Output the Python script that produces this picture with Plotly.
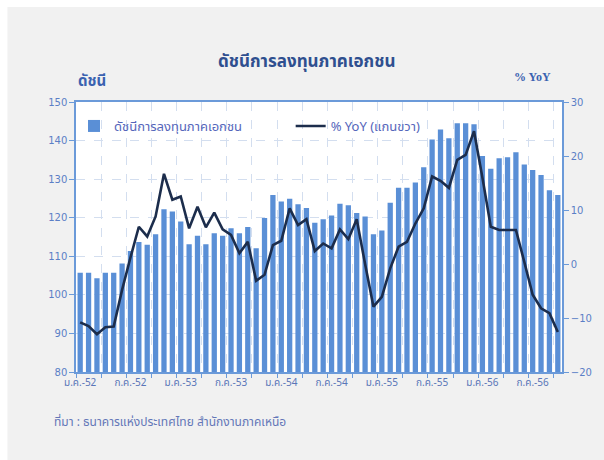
import plotly.graph_objects as go

months = ["ม.ค.", "ก.พ.", "มี.ค.", "เม.ย.", "พ.ค.", "มิ.ย.", "ก.ค.", "ส.ค.", "ก.ย.", "ต.ค.", "พ.ย.", "ธ.ค."]
years = ["52", "53", "54", "55", "56"]
categories = [f"{m}-{y}" for y in years for m in months][:58]

index_values = [105.7, 105.7, 104.3, 105.7, 105.7, 108.1, 111.4, 113.7, 113.0, 115.7, 122.2, 121.6,
                119.0, 113.1, 115.3, 113.1, 116.0, 115.3, 117.3, 116.0, 117.6, 112.1, 119.9, 125.9,
                124.2, 124.9, 123.5, 122.5, 118.7, 119.6, 120.6, 123.6, 123.2, 121.2, 120.3, 115.7,
                116.7, 123.9, 127.8, 127.8, 129.1, 133.1, 140.3, 142.9, 140.6, 144.5, 144.5, 144.2,
                136.0, 132.7, 135.4, 135.7, 137.0, 133.8, 132.4, 131.1, 127.1, 125.9]

yoy_values = [-10.8, -11.5, -13.0, -11.7, -11.6, -4.8, 1.2, 6.9, 5.1, 8.8, 16.7, 11.9,
              12.5, 6.6, 10.6, 6.8, 9.5, 6.4, 5.4, 2.0, 4.1, -3.1, -2.0, 3.5,
              4.3, 10.3, 7.2, 8.3, 2.4, 3.8, 2.9, 6.4, 4.6, 8.3, 0.0, -7.9,
              -6.1, -0.8, 3.2, 4.1, 7.5, 10.3, 16.2, 15.4, 14.1, 19.3, 20.2, 24.6,
              16.0, 6.9, 6.3, 6.3, 6.3, 0.4, -5.7, -8.2, -9.1, -12.6]

label_idx = list(range(0, 58, 6))
label_text = [categories[i] for i in label_idx]
boundary_ticks = [i - 0.5 for i in range(0, 58, 3)]

x = list(range(len(categories)))

thai = "Tahoma, 'Noto Sans Thai', 'Leelawadee UI', 'DejaVu Sans', sans-serif"
blue_axis = "#6b9ad9"
tick_col = "#5b7fc6"

fig = go.Figure()
fig.add_trace(go.Bar(x=x, y=index_values, name="ดัชนีการลงทุนภาคเอกชน",
                     marker=dict(color="#5a8fd6", line=dict(width=0)),
                     hovertext=categories, legend="legend"))
fig.add_trace(go.Scatter(x=x, y=yoy_values, name="% YoY (แกนขวา)", yaxis="y2",
                         mode="lines", line=dict(color="#1c2d4c", width=2.6),
                         hovertext=categories, legend="legend2"))

L, R, T, B = 76, 39, 102, 88
W, H = 604, 460
pw = W - L - R
ph = H - T - B

def px(xp):
    return (xp - L) / pw

def py(yp):
    return (H - B - yp) / ph

legend_font = dict(family=thai, size=13, color="#5566bb")

fig.update_layout(
    width=W, height=H,
    margin=dict(l=L, r=R, t=T, b=B),
    paper_bgcolor="#f1f1f1",
    plot_bgcolor="white",
    bargap=0.37,
    showlegend=True,
    legend=dict(x=px(74), y=py(111), xanchor="left", yanchor="top",
                bgcolor="rgba(0,0,0,0)", font=legend_font, itemwidth=30),
    legend2=dict(x=px(292), y=py(111), xanchor="left", yanchor="top",
                 bgcolor="rgba(0,0,0,0)", font=legend_font, itemwidth=30),
    xaxis=dict(range=[-0.5, 57.5], tickmode="array", tickvals=label_idx, ticktext=label_text,
               ticks="", showgrid=False, showline=True, linecolor=blue_axis, linewidth=1.5,
               mirror=True, zeroline=False,
               tickfont=dict(family=thai, size=10, color="#5a76b8"),
               minor=dict(tickmode="array", tickvals=boundary_ticks, ticks="outside",
                          ticklen=4, tickcolor=blue_axis, showgrid=True,
                          gridcolor="#d3deef", griddash="dash", gridwidth=1)),
    yaxis=dict(range=[80, 150], dtick=10, ticks="outside", ticklen=5, tickcolor=blue_axis,
               showline=True, linecolor=blue_axis, linewidth=1.5, zeroline=False,
               showgrid=True, gridcolor="#d3deef", griddash="dash", gridwidth=1,
               tickfont=dict(family="Tahoma, 'DejaVu Sans', sans-serif", size=10, color=tick_col)),
    yaxis2=dict(range=[-20, 30], dtick=10, overlaying="y", side="right", ticks="outside",
                ticklen=5, tickcolor=blue_axis, showline=True, linecolor=blue_axis, linewidth=1.5,
                showgrid=False, zeroline=False,
                tickfont=dict(family="Tahoma, 'DejaVu Sans', sans-serif", size=10, color=tick_col)),
    shapes=[
        dict(type="rect", xref="paper", yref="paper", x0=px(-5), x1=px(W + 5), y0=py(7), y1=py(-5),
             fillcolor="white", line=dict(width=0), layer="below"),
        dict(type="rect", xref="paper", yref="paper", x0=px(-5), x1=px(7), y0=py(H + 5), y1=py(-5),
             fillcolor="white", line=dict(width=0), layer="below"),
    ],
    annotations=[
        dict(text="<b>ดัชนีการลงทุนภาคเอกชน</b>", xref="paper", yref="paper", x=px(308), y=py(47),
             showarrow=False, font=dict(family=thai, size=17, color="#2f4f8f")),
        dict(text="<b>ดัชนี</b>", xref="paper", yref="paper", x=px(76), y=py(68),
             showarrow=False, font=dict(family=thai, size=15, color="#3a62b0")),
        dict(text="<b>% YoY</b>", xref="paper", yref="paper", x=px(556), y=py(68),
             showarrow=False, font=dict(family="'Liberation Serif', serif", size=12, color="#3a62b0")),
        dict(text="ที่มา : ธนาคารแห่งประเทศไทย สำนักงานภาคเหนือ", xref="paper", yref="paper",
             x=px(52), y=py(433), xanchor="left", showarrow=False,
             font=dict(family=thai, size=12, color="#6477b8")),
    ],
)

fig.write_html("out.html")
